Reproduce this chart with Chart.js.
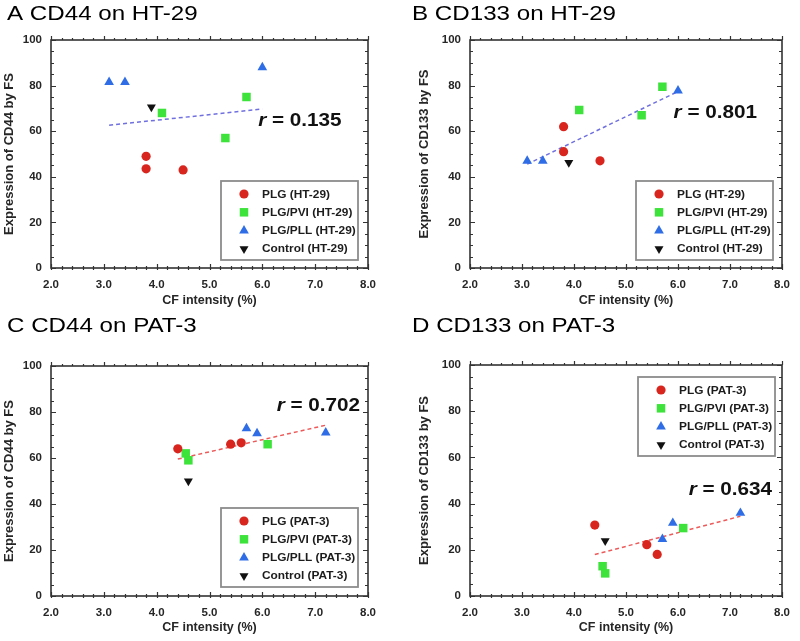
<!DOCTYPE html>
<html>
<head>
<meta charset="utf-8">
<script src="https://cdn.jsdelivr.net/npm/chart.js@4"></script>
<style>
  body { margin: 0; background: #fff; }
  #wrap { position: relative; width: 800px; height: 641px; overflow: hidden; }
  canvas { position: absolute; }
</style>
</head>
<body>
<div id="wrap">
  <canvas id="cA" width="400" height="320" style="left:0;top:0"></canvas>
  <canvas id="cB" width="400" height="320" style="left:400px;top:0"></canvas>
  <canvas id="cC" width="400" height="341" style="left:0;top:300px"></canvas>
  <canvas id="cD" width="400" height="341" style="left:400px;top:300px"></canvas>
</div>
<script>
// groups and legend names
const groupNames = ["PLG", "PLG/PVI", "PLG/PLL", "Control"];

// CF intensity (%) per group, HT-29 cells
const ht29_x_plg = [3.8, 3.8, 4.5];
const ht29_x_pvi = [4.1, 5.3, 5.7];
const ht29_x_pll = [3.1, 3.4, 6.0];
const ht29_x_ctrl = [3.9];

// CF intensity (%) per group, PAT-3 cells
const pat3_x_plg = [4.4, 5.4, 5.6];
const pat3_x_pvi = [4.55, 4.6, 6.1];
const pat3_x_pll = [5.7, 5.9, 7.2];
const pat3_x_ctrl = [4.6];

// Expression by FS
const cd44_ht29_plg = [49, 43.5, 43];
const cd44_ht29_pvi = [68, 57, 75];
const cd44_ht29_pll = [81.5, 81.5, 88];
const cd44_ht29_ctrl = [70.6];

const cd133_ht29_plg = [62, 51, 47];
const cd133_ht29_pvi = [69.3, 67, 79.5];
const cd133_ht29_pll = [47, 47, 77.8];
const cd133_ht29_ctrl = [46.2];

const cd44_pat3_plg = [64, 66, 66.6];
const cd44_pat3_pvi = [62, 59, 66];
const cd44_pat3_pll = [72.9, 70.7, 71];
const cd44_pat3_ctrl = [50];

const cd133_pat3_plg = [30.7, 22.2, 18];
const cd133_pat3_pvi = [12.9, 9.8, 29.4];
const cd133_pat3_pll = [24.6, 31.6, 35.9];
const cd133_pat3_ctrl = [23.9];

const rValues = ["0.135", "0.801", "0.702", "0.634"];

const FONT = "'Liberation Sans', Arial, Helvetica, sans-serif";
Chart.defaults.font.family = FONT;

const colors = ["#d8261e", "#3de23a", "#2f6de6", "#111111"];
const marks = [
  { shape: "circle", rot: 0, r: 4.6 },
  { shape: "rect", rot: 0, r: 6 },
  { shape: "triangle", rot: 0, r: 5.6 },
  { shape: "triangle", rot: 180, r: 5.2 },
];

// draw text squeezed wider, like the scanned figure
function wideText(ctx, text, x, y, font, color, sx) {
  ctx.save();
  ctx.font = font;
  ctx.fillStyle = color;
  ctx.textBaseline = "middle";
  ctx.textAlign = "left";
  ctx.translate(x, y);
  ctx.scale(sx, 1);
  ctx.fillText(text, 0, 0);
  const w = ctx.measureText(text).width * sx;
  ctx.restore();
  return w;
}

function drawMark(ctx, k, x, y) {
  const m = marks[k];
  ctx.save();
  ctx.fillStyle = colors[k];
  ctx.beginPath();
  if (m.shape === "circle") {
    ctx.arc(x, y, m.r, 0, Math.PI * 2);
  } else if (m.shape === "rect") {
    const s = m.r * Math.SQRT1_2;
    ctx.rect(x - s, y - s, 2 * s, 2 * s);
  } else {
    const sgn = m.rot ? -1 : 1;
    const r = m.r;
    ctx.moveTo(x, y - sgn * r);
    ctx.lineTo(x + r * 0.866, y + sgn * r * 0.5);
    ctx.lineTo(x - r * 0.866, y + sgn * r * 0.5);
    ctx.closePath();
  }
  ctx.fill();
  ctx.restore();
}

// box + small tick marks on all four sides
const framePlugin = {
  id: "frame",
  beforeDatasetsDraw(chart) {
    const { ctx, chartArea: a, scales: { x, y } } = chart;
    ctx.save();
    ctx.strokeStyle = "#333";
    ctx.lineWidth = 1.2;
    ctx.beginPath();
    for (let i = 0; i <= 30; i++) {
      const px = Math.round(x.getPixelForValue(2 + i * 0.2)) + 0.5;
      const len = i % 5 === 0 ? 5 : 3;
      ctx.moveTo(px, a.bottom + 2); ctx.lineTo(px, a.bottom - len + 1);
      ctx.moveTo(px, a.top); ctx.lineTo(px, a.top - len + 1);
    }
    for (let i = 0; i <= 20; i++) {
      const py = Math.round(y.getPixelForValue(i * 5)) + 0.5;
      const len = i % 4 === 0 ? 5 : 3;
      ctx.moveTo(a.left, py); ctx.lineTo(a.left + len, py);
      ctx.moveTo(a.right, py); ctx.lineTo(a.right - len, py);
    }
    ctx.stroke();
    ctx.lineWidth = 1.6;
    ctx.strokeRect(a.left, a.top, a.right - a.left, a.bottom - a.top);
    ctx.restore();
  },
};

// legend drawn inside the plot, with a grey box
const boxLegend = {
  id: "boxLegend",
  afterDatasetsDraw(chart, args, opts) {
    const { ctx, chartArea: a } = chart;
    const w = 137, h = 79;
    const x0 = a.right - opts.dx - w;
    const y0 = opts.corner === "br" ? a.bottom - opts.dy - h : a.top + opts.dy;
    ctx.save();
    ctx.fillStyle = "#fff";
    ctx.fillRect(x0, y0, w, h);
    ctx.strokeStyle = "#8c8c8c";
    ctx.lineWidth = 1.8;
    ctx.strokeRect(x0, y0, w, h);
    ctx.restore();
    chart.data.datasets.filter(d => !d.isTrend).forEach((d, i) => {
      const cy = y0 + 13 + i * 18.3;
      drawMark(ctx, i, x0 + 23, cy);
      wideText(ctx, d.label, x0 + 41, cy + 0.5, "bold 11px " + FONT, "#1c1c1c", 1.08);
    });
  },
};

// panel letter title and the r value
const labelsPlugin = {
  id: "labels",
  afterDraw(chart, args, opts) {
    const { ctx, scales: { x, y } } = chart;
    wideText(ctx, opts.title, opts.titleX, opts.titleY, "21px " + FONT, "#000", 1.15);
    const px = x.getPixelForValue(opts.rAt[0]);
    const py = y.getPixelForValue(opts.rAt[1]);
    ctx.save();
    ctx.font = "bold 18px " + FONT;
    const rest = " = " + opts.r;
    const wr = ctx.measureText("r").width * 1.15;
    const wRest = ctx.measureText(rest).width * 1.15;
    ctx.restore();
    const left = px - wr - wRest;
    wideText(ctx, "r", left, py, "italic bold 18px " + FONT, "#111", 1.15);
    wideText(ctx, rest, left + wr, py, "bold 18px " + FONT, "#111", 1.15);
  },
};

function makeChart(p) {
  const sets = groupNames.map((g, k) => ({
    type: "scatter",
    label: g + " (" + p.cell + ")",
    data: p.xs[k].map((v, i) => ({ x: v, y: p.ys[k][i] })),
    pointStyle: marks[k].shape,
    rotation: marks[k].rot,
    pointRadius: marks[k].r,
    backgroundColor: colors[k],
    borderColor: colors[k],
    borderWidth: 0,
    order: 0,
  }));

  // least squares fit through every point of the panel
  const all = sets.flatMap(s => s.data);
  const n = all.length;
  const mx = all.reduce((s, q) => s + q.x, 0) / n;
  const my = all.reduce((s, q) => s + q.y, 0) / n;
  let sxy = 0, sxx = 0;
  all.forEach(q => { sxy += (q.x - mx) * (q.y - my); sxx += (q.x - mx) ** 2; });
  const slope = sxy / sxx;
  const x1 = Math.min(...all.map(q => q.x));
  const x2 = Math.max(...all.map(q => q.x));
  sets.push({
    type: "line",
    isTrend: true,
    data: [
      { x: x1, y: my + slope * (x1 - mx) },
      { x: x2, y: my + slope * (x2 - mx) },
    ],
    borderColor: p.lineColor,
    borderWidth: 1.5,
    borderDash: [4, 3],
    pointRadius: 0,
    order: 1,
  });

  new Chart(document.getElementById(p.id), {
    type: "scatter",
    data: { datasets: sets },
    plugins: [framePlugin, boxLegend, labelsPlugin],
    options: {
      responsive: false,
      animation: false,
      events: [],
      layout: { padding: { top: p.padTop, right: p.padRight, left: 0, bottom: 0 } },
      scales: {
        x: {
          type: "linear",
          min: 2, max: 8,
          grid: { display: false, drawTicks: false },
          border: { display: false },
          ticks: {
            stepSize: 1,
            callback: v => v.toFixed(1),
            font: { size: 11.5, weight: "bold" },
            color: "#262626",
            padding: 10,
            maxRotation: 0,
          },
          title: {
            display: true,
            text: "CF intensity (%)",
            font: { size: 12.5, weight: "bold" },
            color: "#262626",
            padding: { top: 0, bottom: p.xTitlePad },
          },
          afterFit: s => { s.height = p.xH; },
        },
        y: {
          min: 0, max: 100,
          grid: { display: false, drawTicks: false },
          border: { display: false },
          ticks: {
            stepSize: 20,
            font: { size: 11.5, weight: "bold" },
            color: "#262626",
            padding: 9,
          },
          title: {
            display: true,
            text: p.yTitle,
            font: { size: 13, weight: "bold" },
            color: "#262626",
            padding: { top: p.yTitlePad, bottom: 0 },
          },
          afterFit: s => { s.width = p.yW; },
        },
      },
      plugins: {
        legend: { display: false },
        tooltip: { enabled: false },
        boxLegend: p.legend,
        labels: { title: p.title, titleX: p.titleX, titleY: p.titleY, r: p.r, rAt: p.rAt },
      },
    },
  });
}

const ht29X = [ht29_x_plg, ht29_x_pvi, ht29_x_pll, ht29_x_ctrl];
const pat3X = [pat3_x_plg, pat3_x_pvi, pat3_x_pll, pat3_x_ctrl];

makeChart({
  id: "cA", cell: "HT-29", title: "A CD44 on HT-29", yTitle: "Expression of CD44 by FS",
  xs: ht29X, ys: [cd44_ht29_plg, cd44_ht29_pvi, cd44_ht29_pll, cd44_ht29_ctrl],
  r: rValues[0], rAt: [7.5, 64.5], lineColor: "#6f6fe0",
  padTop: 40, padRight: 32, yW: 51, xH: 52, xTitlePad: 12, yTitlePad: 1.5,
  titleX: 7, titleY: 14, legend: { corner: "br", dx: 10, dy: 8 },
});
makeChart({
  id: "cB", cell: "HT-29", title: "B CD133 on HT-29", yTitle: "Expression of CD133 by FS",
  xs: ht29X, ys: [cd133_ht29_plg, cd133_ht29_pvi, cd133_ht29_pll, cd133_ht29_ctrl],
  r: rValues[1], rAt: [7.52, 68], lineColor: "#6f6fe0",
  padTop: 40, padRight: 13, yW: 70, xH: 52, xTitlePad: 12, yTitlePad: 17,
  titleX: 12, titleY: 14, legend: { corner: "br", dx: 9, dy: 8 },
});
makeChart({
  id: "cC", cell: "PAT-3", title: "C CD44 on PAT-3", yTitle: "Expression of CD44 by FS",
  xs: pat3X, ys: [cd44_pat3_plg, cd44_pat3_pvi, cd44_pat3_pll, cd44_pat3_ctrl],
  r: rValues[2], rAt: [7.85, 82.8], lineColor: "#ee5a5a",
  padTop: 66, padRight: 32, yW: 51, xH: 45, xTitlePad: 6, yTitlePad: 1.5,
  titleX: 7, titleY: 26, legend: { corner: "br", dx: 10, dy: 9 },
});
makeChart({
  id: "cD", cell: "PAT-3", title: "D CD133 on PAT-3", yTitle: "Expression of CD133 by FS",
  xs: pat3X, ys: [cd133_pat3_plg, cd133_pat3_pvi, cd133_pat3_pll, cd133_pat3_ctrl],
  r: rValues[3], rAt: [7.81, 45.8], lineColor: "#ee5a5a",
  padTop: 65, padRight: 13, yW: 70, xH: 45, xTitlePad: 6, yTitlePad: 17,
  titleX: 12, titleY: 26, legend: { corner: "tr", dx: 7, dy: 12 },
});
</script>
</body>
</html>
